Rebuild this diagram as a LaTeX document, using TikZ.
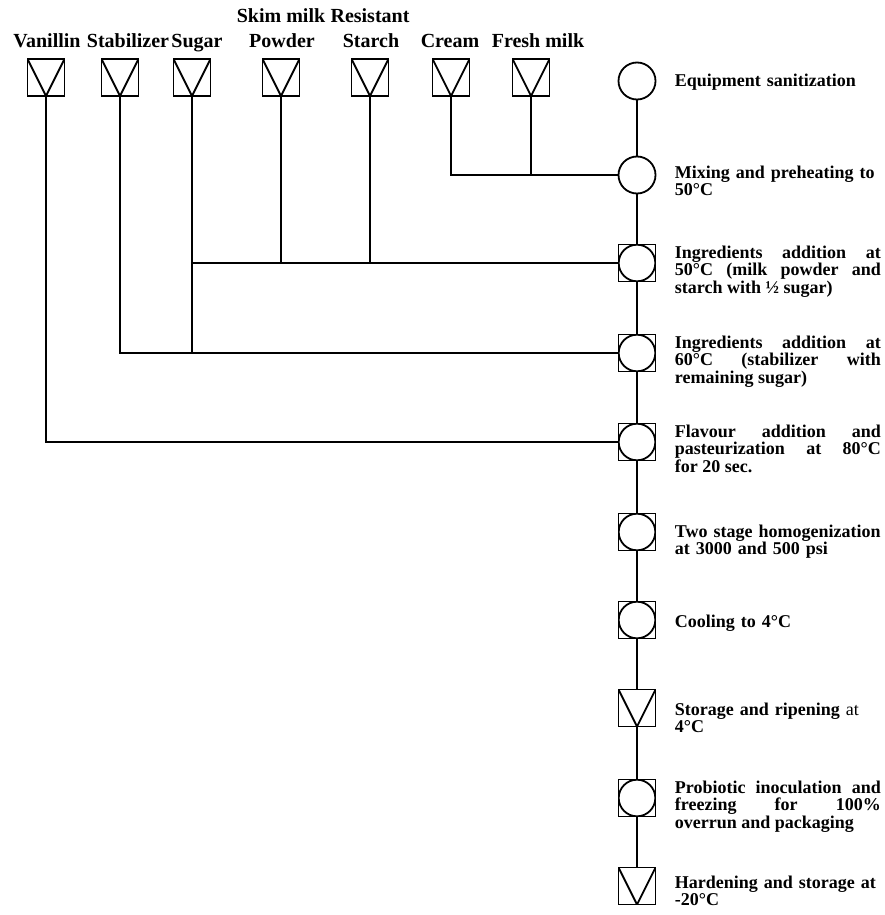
\documentclass[tikz,border=0pt]{standalone}
\usepackage{fontspec}
\setmainfont{Liberation Serif}
\begin{document}
\begin{tikzpicture}[x=1pt,y=-1pt,line width=1.8pt,
  feed/.style={draw,rectangle,minimum size=37pt,inner sep=0pt,
    path picture={\draw[line width=1.8pt] (path picture bounding box.north west) -- (path picture bounding box.south) -- (path picture bounding box.north east);}},
  proc/.style={draw,circle,minimum size=37pt,inner sep=0pt},
  procsq/.style={draw,rectangle,minimum size=37pt,inner sep=0pt,
    path picture={\draw[line width=1.8pt] (path picture bounding box.center) circle (18.3pt);}},
  lbl/.style={anchor=base,inner sep=0pt,font=\fontsize{20}{22}\selectfont\bfseries},
  desc/.style={anchor=base west,inner sep=0pt,text width=206pt,font=\fontsize{18}{17.8}\selectfont\bfseries},
]
\useasboundingbox (0,0) rectangle (884,915);

% feed labels
\node[lbl] (lvan) at (47,48) {Vanillin};
\node[lbl] (lstab) at (128,48) {Stabilizer};
\node[lbl] (lsug) at (197,48) {Sugar};
\node[lbl] (lskim1) at (281,23) {Skim milk};
\node[lbl] (lskim2) at (282,48) {Powder};
\node[lbl] (lres1) at (370,23) {Resistant};
\node[lbl] (lres2) at (371,48) {Starch};
\node[lbl] (lcream) at (450,48) {Cream};
\node[lbl] (lfresh) at (538,48) {Fresh milk};

% feed symbols
\node[feed] (van) at (46,77.5) {};
\node[feed] (stab) at (120,77.5) {};
\node[feed] (sugar) at (192,77.5) {};
\node[feed] (skim) at (281,77.5) {};
\node[feed] (starch) at (370,77.5) {};
\node[feed] (cream) at (451,77.5) {};
\node[feed] (fresh) at (531,77.5) {};

% process column
\node[proc] (eq) at (637,81) {};
\node[proc] (mix) at (637,175) {};
\node[procsq] (ing1) at (637,263) {};
\node[procsq] (ing2) at (637,353) {};
\node[procsq] (flav) at (637,442) {};
\node[procsq] (homog) at (637,532) {};
\node[procsq] (cool) at (637,620) {};
\node[feed] (stor) at (637,708) {};
\node[procsq] (prob) at (637,798) {};
\node[feed] (hard) at (637,886) {};

\draw (eq) -- (mix);
\draw (mix) -- (ing1);
\draw (ing1) -- (ing2);
\draw (ing2) -- (flav);
\draw (flav) -- (homog);
\draw (homog) -- (cool);
\draw (cool) -- (stor);
\draw (stor) -- (prob);
\draw (prob) -- (hard);

% feed connections
\draw (cream.south) |- (mix.west);
\draw (fresh.south) -- (fresh.south |- mix.west);
\draw (skim.south) -- (skim.south |- ing1.west);
\draw (starch.south) -- (starch.south |- ing1.west);
\draw (sugar.south) -- (sugar.south |- ing2.west);
\draw (sugar.south |- ing1.west) -- (ing1.west);
\draw (stab.south) |- (ing2.west);
\draw (van.south) |- (flav.west);

% descriptions
\node[desc,align=left] (teq) at (674,87) {Equipment sanitization};
\node[desc,align=left] (tmix) at (674,178) {Mixing and preheating to\\50°C};
\node[desc,align=justify] (ting1) at (674,258) {Ingredients addition at\linebreak 50°C (milk powder and\linebreak starch with ½ sugar)};
\node[desc,align=justify] (ting2) at (674,348) {Ingredients addition at\linebreak 60°C (stabilizer with\linebreak remaining sugar)};
\node[desc,align=justify] (tflav) at (674,437) {Flavour addition and\linebreak pasteurization at 80°C\linebreak for 20 sec.};
\node[desc,align=left] (thomog) at (674,537) {Two stage homogenization\\at 3000 and 500 psi};
\node[desc,align=left] (tcool) at (674,627) {Cooling to 4°C};
\node[desc,align=left] (tstor) at (674,715) {Storage and ripening {\mdseries at}\\4°C};
\node[desc,align=justify] (tprob) at (674,793) {Probiotic inoculation and\linebreak freezing for 100\%\linebreak overrun and packaging};
\node[desc,align=left] (thard) at (674,888) {Hardening and storage at\\-20°C};
\end{tikzpicture}
\end{document}
